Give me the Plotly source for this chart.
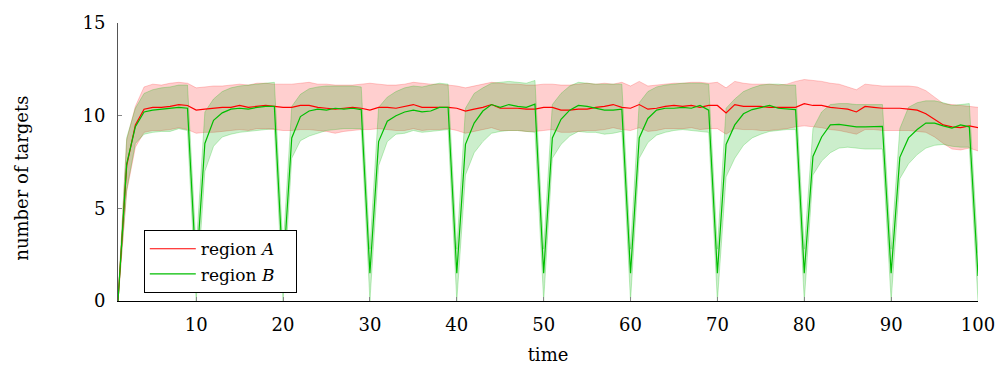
import plotly.graph_objects as go

time = list(range(1, 101))

a_mean = [0, 7.3, 9.5, 10.35, 10.45, 10.45, 10.5, 10.6, 10.55, 10.3,
          10.35, 10.4, 10.45, 10.45, 10.55, 10.45, 10.5, 10.55, 10.5, 10.45,
          10.45, 10.55, 10.55, 10.45, 10.4, 10.35, 10.4, 10.45, 10.4, 10.3,
          10.45, 10.45, 10.4, 10.5, 10.6, 10.45, 10.45, 10.45, 10.45, 10.4,
          10.25, 10.35, 10.45, 10.6, 10.4, 10.4, 10.4, 10.35, 10.35, 10.45,
          10.45, 10.3, 10.3, 10.35, 10.35, 10.45, 10.5, 10.6, 10.45, 10.4,
          10.6, 10.35, 10.4, 10.5, 10.55, 10.5, 10.55, 10.45, 10.55, 10.55,
          10.15, 10.6, 10.5, 10.5, 10.5, 10.45, 10.45, 10.45, 10.45, 10.65,
          10.55, 10.55, 10.45, 10.4, 10.35, 10.2, 10.5, 10.45, 10.4, 10.4,
          10.4, 10.35, 10.3, 10.1, 9.8, 9.5, 9.4, 9.35, 9.45, 9.35]
a_upper = [0, 8.7, 10.5, 11.55, 11.7, 11.65, 11.75, 11.8, 11.75, 11.5,
           11.55, 11.6, 11.6, 11.65, 11.7, 11.65, 11.75, 11.75, 11.7, 11.7,
           11.7, 11.75, 11.8, 11.7, 11.7, 11.65, 11.65, 11.65, 11.7, 11.75,
           11.7, 11.65, 11.65, 11.7, 11.8, 11.75, 11.7, 11.7, 11.65, 11.6,
           11.5, 11.6, 11.7, 11.8, 11.75, 11.7, 11.7, 11.65, 11.65, 11.7,
           11.7, 11.65, 11.65, 11.7, 11.75, 11.7, 11.75, 11.7, 11.8, 11.6,
           11.85, 11.6, 11.65, 11.7, 11.75, 11.75, 11.8, 11.8, 11.75, 11.8,
           11.5, 11.85, 11.75, 11.7, 11.7, 11.7, 11.65, 11.7, 11.85, 11.95,
           11.9, 11.85, 11.75, 11.7, 11.55, 11.4, 11.7, 11.65, 11.6, 11.6,
           11.6, 11.6, 11.55, 11.35, 11.0, 10.65, 10.6, 10.55, 10.5, 10.45]
a_lower = [0, 5.9, 8.3, 9.1, 9.2, 9.2, 9.25, 9.35, 9.25, 9.05,
           9.1, 9.1, 9.15, 9.2, 9.25, 9.2, 9.3, 9.3, 9.25, 9.2,
           9.2, 9.25, 9.25, 9.2, 9.15, 9.05, 9.15, 9.2, 9.25, 9.25,
           9.3, 9.25, 9.2, 9.2, 9.3, 9.2, 9.25, 9.25, 9.3, 9.2,
           9.05, 9.15, 9.25, 9.35, 9.2, 9.2, 9.2, 9.15, 9.15, 9.2,
           9.25, 9.1, 9.1, 9.15, 9.2, 9.2, 9.25, 9.35, 9.25, 9.2,
           9.35, 9.15, 9.2, 9.3, 9.3, 9.3, 9.35, 9.25, 9.3, 9.3,
           9.0, 9.3, 9.25, 9.25, 9.2, 9.2, 9.25, 9.3, 9.4, 9.45,
           9.4, 9.35, 9.25, 9.2, 9.1, 9.0, 9.25, 9.25, 9.2, 9.2,
           9.2, 9.2, 9.15, 9.1, 8.85, 8.5, 8.2, 8.15, 8.25, 8.1]

b_mean = [0, 7.4, 9.4, 10.2, 10.3, 10.35, 10.4, 10.45, 10.4, 1.5,
          8.5, 9.75, 10.15, 10.35, 10.4, 10.35, 10.45, 10.5, 10.5, 1.5,
          8.8, 9.95, 10.25, 10.35, 10.3, 10.4, 10.35, 10.4, 10.33, 1.5,
          8.6, 9.7, 10.0, 10.2, 10.3, 10.2, 10.25, 10.45, 10.45, 1.5,
          8.45, 9.6, 10.25, 10.6, 10.45, 10.6, 10.5, 10.45, 10.62, 1.5,
          8.8, 9.8, 10.3, 10.55, 10.5, 10.4, 10.3, 10.3, 10.35, 1.5,
          8.8, 9.85, 10.3, 10.4, 10.4, 10.45, 10.4, 10.55, 10.3, 1.5,
          8.45, 9.5, 10.1, 10.33, 10.45, 10.55, 10.4, 10.35, 10.33, 1.5,
          7.8, 8.85, 9.5, 9.53, 9.48, 9.4, 9.4, 9.42, 9.42, 1.5,
          7.75, 8.8, 9.25, 9.6, 9.6, 9.45, 9.33, 9.5, 9.4, 1.35]
b_upper = [0, 8.8, 10.4, 11.2, 11.4, 11.5, 11.55, 11.65, 11.65, 2.8,
           10.2, 10.9, 11.3, 11.5, 11.6, 11.65, 11.7, 11.75, 11.8, 2.8,
           10.5, 11.15, 11.45, 11.55, 11.6, 11.6, 11.6, 11.6, 11.55, 2.8,
           10.45, 11.0, 11.3, 11.5, 11.6, 11.55, 11.65, 11.75, 11.7, 2.8,
           10.4, 11.2, 11.5, 11.75, 11.8, 11.85, 11.8, 11.75, 11.9, 2.8,
           10.6, 11.2, 11.6, 11.8, 11.75, 11.7, 11.7, 11.7, 11.7, 2.8,
           10.7, 11.3, 11.55, 11.65, 11.7, 11.75, 11.75, 11.75, 11.7, 2.8,
           10.4, 10.9, 11.3, 11.5, 11.65, 11.7, 11.7, 11.65, 11.65, 2.8,
           9.3, 10.2, 10.6, 10.65, 10.65, 10.6, 10.6, 10.6, 10.6, 2.8,
           9.3, 10.45, 10.7, 10.8, 10.8, 10.7, 10.55, 10.6, 10.65, 2.6]
b_lower = [0, 6.0, 8.5, 9.0, 9.1, 9.15, 9.15, 9.3, 9.2, 0,
           7.0, 8.35, 8.85, 9.0, 9.1, 9.15, 9.2, 9.25, 9.3, 0,
           7.7, 8.65, 8.9, 9.05, 9.2, 9.25, 9.3, 9.3, 9.3, 0,
           7.3, 8.6, 9.0, 9.05, 9.2, 9.1, 9.15, 9.2, 9.25, 0,
           6.8, 8.0, 8.6, 9.05, 9.15, 9.2, 9.2, 9.15, 9.1, 0,
           7.7, 8.45, 8.9, 9.15, 9.1, 9.1, 9.0, 9.05, 9.15, 0,
           7.7, 8.55, 8.95, 9.1, 9.2, 9.25, 9.2, 9.15, 9.1, 0,
           6.7, 7.7, 8.4, 8.8, 9.0, 9.15, 9.2, 9.25, 9.25, 0,
           6.8, 7.55, 8.0, 8.25, 8.3, 8.25, 8.2, 8.2, 8.2, 0,
           6.6, 7.4, 7.9, 8.25, 8.4, 8.45, 8.35, 8.3, 8.3, 0]

x_ticks = [10, 20, 30, 40, 50, 60, 70, 80, 90, 100]
y_ticks = [0, 5, 10, 15]

FONT = "DejaVu Serif"
RED = "rgb(255,0,0)"
GREEN = "rgb(0,190,0)"

fig = go.Figure()
# region A band
fig.add_trace(go.Scatter(x=time, y=a_lower, mode="lines",
                         line=dict(color="rgba(255,0,0,0.25)", width=0.8),
                         showlegend=False, hoverinfo="skip"))
fig.add_trace(go.Scatter(x=time, y=a_upper, mode="lines", fill="tonexty",
                         fillcolor="rgba(255,0,0,0.19)",
                         line=dict(color="rgba(255,0,0,0.25)", width=0.8),
                         showlegend=False, hoverinfo="skip"))
# region B band
fig.add_trace(go.Scatter(x=time, y=b_lower, mode="lines",
                         line=dict(color="rgba(0,190,0,0.3)", width=0.8),
                         showlegend=False, hoverinfo="skip"))
fig.add_trace(go.Scatter(x=time, y=b_upper, mode="lines", fill="tonexty",
                         fillcolor="rgba(0,170,0,0.2)",
                         line=dict(color="rgba(0,190,0,0.3)", width=0.8),
                         showlegend=False, hoverinfo="skip"))
# means
fig.add_trace(go.Scatter(x=time, y=a_mean, mode="lines",
                         name="region <i>A</i>&nbsp;&nbsp;&nbsp;",
                         line=dict(color=RED, width=1.2)))
fig.add_trace(go.Scatter(x=time, y=b_mean, mode="lines",
                         name="region <i>B</i>&nbsp;&nbsp;&nbsp;",
                         line=dict(color=GREEN, width=1.2)))

fig.update_layout(
    width=1008, height=378,
    margin=dict(l=118, r=30, t=15, b=77),
    paper_bgcolor="white", plot_bgcolor="white",
    font=dict(family=FONT, size=18, color="black"),
    showlegend=True,
    legend=dict(x=0.030, y=0.028, xanchor="left", yanchor="bottom",
                bgcolor="white", bordercolor="black", borderwidth=1,
                font=dict(family=FONT, size=17), tracegroupgap=0,
                traceorder="normal", itemwidth=46),
    annotations=[dict(text="number of targets", xref="paper", yref="paper",
                      x=-0.1116, y=0.44, xanchor="center", yanchor="middle",
                      textangle=-90, showarrow=False,
                      font=dict(family=FONT, size=18))],
)
fig.update_xaxes(range=[1, 100], tickvals=x_ticks, ticks="inside", ticklen=4,
                 tickcolor="#888", showgrid=False, zeroline=False,
                 showline=True, linecolor="black", linewidth=1,
                 tickfont=dict(family=FONT, size=18), ticklabelstandoff=7,
                 title=dict(text="time", font=dict(family=FONT, size=18), standoff=14))
fig.update_yaxes(range=[0, 15], tickvals=y_ticks, ticks="inside", ticklen=4,
                 tickcolor="#888", showgrid=False, zeroline=False,
                 showline=True, linecolor="#555", linewidth=1,
                 tickfont=dict(family=FONT, size=18), ticklabelstandoff=8)

fig.write_html("out.html")
